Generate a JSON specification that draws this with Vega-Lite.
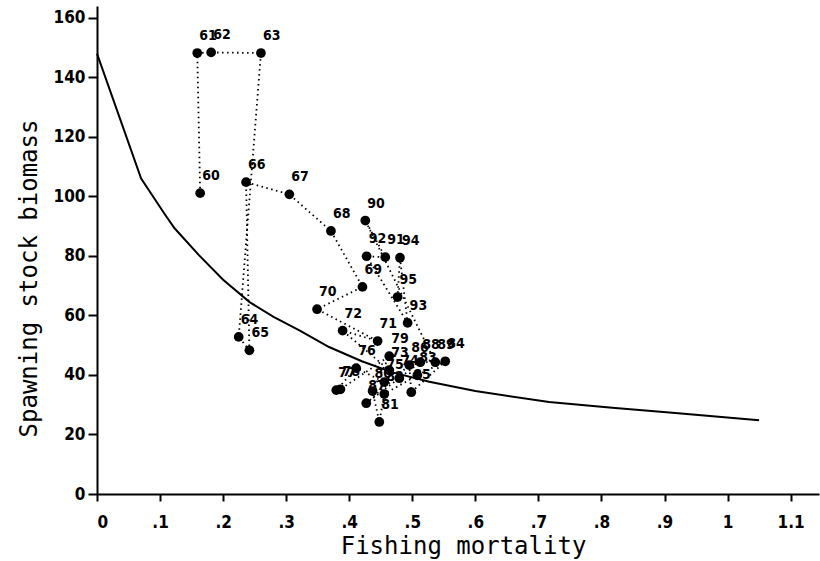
{
  "$schema": "https://vega.github.io/schema/vega-lite/v6.json",
  "width": 722,
  "height": 488,
  "autosize": {"type": "none"},
  "padding": {"left": 97, "top": 6, "right": 1, "bottom": 67},
  "background": "white",
  "config": {
    "view": {"stroke": null},
    "font": "Liberation Sans Narrow, DejaVu Sans Condensed, DejaVu Sans, sans-serif"
  },
  "datasets": {
    "years": [
      {"year": 60, "F": 0.1636, "B": 101.1},
      {"year": 61, "F": 0.159, "B": 148.2},
      {"year": 62, "F": 0.181, "B": 148.4},
      {"year": 63, "F": 0.26, "B": 148.2},
      {"year": 64, "F": 0.2247, "B": 52.8},
      {"year": 65, "F": 0.2417, "B": 48.3},
      {"year": 66, "F": 0.2364, "B": 104.8},
      {"year": 67, "F": 0.305, "B": 100.7},
      {"year": 68, "F": 0.371, "B": 88.4},
      {"year": 69, "F": 0.421, "B": 69.6},
      {"year": 70, "F": 0.349, "B": 62.1},
      {"year": 71, "F": 0.445, "B": 51.4},
      {"year": 72, "F": 0.3895, "B": 54.9},
      {"year": 73, "F": 0.4635, "B": 41.6},
      {"year": 74, "F": 0.4794, "B": 38.9},
      {"year": 75, "F": 0.4556, "B": 37.6},
      {"year": 76, "F": 0.411, "B": 42.3},
      {"year": 77, "F": 0.3795, "B": 34.9},
      {"year": 78, "F": 0.386, "B": 35.2},
      {"year": 79, "F": 0.4635, "B": 46.3},
      {"year": 80, "F": 0.437, "B": 34.6},
      {"year": 81, "F": 0.4477, "B": 24.2},
      {"year": 82, "F": 0.4556, "B": 33.6},
      {"year": 83, "F": 0.508, "B": 39.9},
      {"year": 84, "F": 0.5523, "B": 44.6},
      {"year": 85, "F": 0.4984, "B": 34.2},
      {"year": 86, "F": 0.4952, "B": 43.3},
      {"year": 87, "F": 0.427, "B": 30.5},
      {"year": 88, "F": 0.5127, "B": 44.3},
      {"year": 89, "F": 0.5365, "B": 44.3},
      {"year": 90, "F": 0.4255, "B": 91.9},
      {"year": 91, "F": 0.4572, "B": 79.6},
      {"year": 92, "F": 0.4276, "B": 79.9},
      {"year": 93, "F": 0.4926, "B": 57.5},
      {"year": 94, "F": 0.4805, "B": 79.4},
      {"year": 95, "F": 0.4767, "B": 66.2}
    ],
    "curve": [
      {"F": 0, "B": 148},
      {"F": 0.07, "B": 106},
      {"F": 0.107, "B": 94.2},
      {"F": 0.123, "B": 89.3},
      {"F": 0.162, "B": 80.2},
      {"F": 0.2, "B": 72},
      {"F": 0.242, "B": 64.5},
      {"F": 0.28, "B": 59.5},
      {"F": 0.321, "B": 55},
      {"F": 0.368, "B": 49.4},
      {"F": 0.42, "B": 44.6},
      {"F": 0.47, "B": 40.8},
      {"F": 0.527, "B": 37.7},
      {"F": 0.6, "B": 34.6},
      {"F": 0.717, "B": 30.9},
      {"F": 0.817, "B": 29.0},
      {"F": 0.9125, "B": 27.3},
      {"F": 1.05, "B": 24.8}
    ]
  },
  "layer": [
    {
      "data": {"name": "curve"},
      "mark": {"type": "line", "color": "black", "strokeWidth": 2},
      "encoding": {
        "x": {
          "field": "F", "type": "quantitative",
          "scale": {"domain": [0, 1.145], "nice": false, "zero": false},
          "axis": {
            "values": [0, 0.1, 0.2, 0.3, 0.4, 0.5, 0.6, 0.7, 0.8, 0.9, 1, 1.1],
            "labelExpr": "datum.value > 0 && datum.value < 1 ? slice(format(datum.value, '.1f'), 1) : format(datum.value, '~g')",
            "grid": false,
            "domainColor": "black", "domainWidth": 2,
            "tickColor": "black", "tickWidth": 2, "tickSize": 7,
            "labelFontSize": 17, "labelColor": "black", "labelPadding": 13,
            "labelFontWeight": "bold",
            "title": "Fishing mortality",
            "titleFont": "DejaVu Sans Mono",
            "titleFontSize": 24, "titleFontWeight": "normal", "titleColor": "black",
            "titleX": 366, "titleY": 59, "titleAlign": "center", "titleBaseline": "alphabetic"
          }
        },
        "y": {
          "field": "B", "type": "quantitative",
          "scale": {"domain": [0, 164], "nice": false},
          "axis": {
            "values": [0, 20, 40, 60, 80, 100, 120, 140, 160],
            "grid": false,
            "domainColor": "black", "domainWidth": 2,
            "tickColor": "black", "tickWidth": 2, "tickSize": 9,
            "labelFontSize": 17, "labelColor": "black", "labelPadding": 3,
            "labelFontWeight": "bold",
            "title": "Spawning stock biomass",
            "titleFont": "DejaVu Sans Mono",
            "titleFontSize": 24, "titleFontWeight": "normal", "titleColor": "black",
            "titleX": -68, "titleY": 272, "titleAlign": "center", "titleBaseline": "middle", "titleAngle": -90
          }
        }
      }
    },
    {
      "data": {"name": "years"},
      "mark": {"type": "line", "color": "black", "strokeWidth": 1.8, "strokeDash": [1.5, 3.5]},
      "encoding": {
        "x": {"field": "F", "type": "quantitative"},
        "y": {"field": "B", "type": "quantitative"},
        "order": {"field": "year", "type": "quantitative"}
      }
    },
    {
      "data": {"name": "years"},
      "mark": {"type": "point", "filled": true, "color": "black", "size": 95, "opacity": 1},
      "encoding": {
        "x": {"field": "F", "type": "quantitative"},
        "y": {"field": "B", "type": "quantitative"}
      }
    },
    {
      "data": {"name": "years"},
      "mark": {"type": "text", "align": "left", "baseline": "alphabetic", "dx": 2, "dy": -13, "fontSize": 14, "fontWeight": "bold", "color": "black"},
      "encoding": {
        "x": {"field": "F", "type": "quantitative"},
        "y": {"field": "B", "type": "quantitative"},
        "text": {"field": "year", "type": "nominal"}
      }
    },
    {
      "mark": {"type": "rule", "color": "black", "strokeWidth": 2},
      "encoding": {"y": {"datum": 164}}
    }
  ]
}
